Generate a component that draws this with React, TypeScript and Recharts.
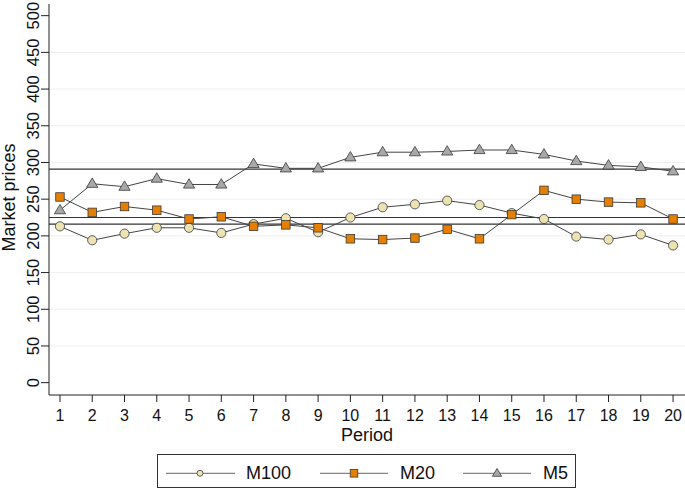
import React from 'react';
import { LineChart, Line, XAxis, YAxis, CartesianGrid, ReferenceLine, Legend } from 'recharts';

const periods = [1, 2, 3, 4, 5, 6, 7, 8, 9, 10, 11, 12, 13, 14, 15, 16, 17, 18, 19, 20];
const m100 = [213, 194, 203, 211, 211, 204, 216, 224, 205, 225, 239, 243, 248, 242, 231, 223, 199, 195, 202, 187];
const m20 = [253, 232, 240, 235, 223, 226, 213, 215, 211, 196, 195, 197, 209, 196, 229, 262, 250, 246, 245, 223];
const m5 = [235, 271, 267, 278, 270, 270, 298, 292, 292, 307, 314, 314, 315, 317, 317, 311, 302, 296, 294, 288];
const meanLines = [291, 225, 216];
const yTicks = [0, 50, 100, 150, 200, 250, 300, 350, 400, 450, 500];
const gridValues = [50, 100, 150, 200, 250, 300, 350, 400, 450];
const seriesNames = ['M100', 'M20', 'M5'];

const data = periods.map((p, i) => ({ period: p, M100: m100[i], M20: m20[i], M5: m5[i] }));

const FONT = '"Liberation Sans", Arial, Helvetica, sans-serif';
const LINE_COLOR = '#444';
const MARKER_STROKE = '#3a3a3a';
const C100 = '#EDE3B2';
const C20 = '#E67E00';
const C5 = '#A8A8A8';

const CircleDot = (props: any) => {
  const { cx, cy, index } = props;
  if (cx == null || cy == null) return null;
  return <circle key={`c-${index}`} cx={cx} cy={cy} r={4.6} fill={C100} stroke={MARKER_STROKE} strokeWidth={0.8} />;
};
const SquareDot = (props: any) => {
  const { cx, cy, index } = props;
  if (cx == null || cy == null) return null;
  const s = 8.5;
  return <rect key={`s-${index}`} x={cx - s / 2} y={cy - s / 2} width={s} height={s} fill={C20} stroke={MARKER_STROKE} strokeWidth={0.8} />;
};
const TriDot = (props: any) => {
  const { cx, cy, index } = props;
  if (cx == null || cy == null) return null;
  const pts = `${cx},${cy - 5.8} ${cx - 5.6},${cy + 3.6} ${cx + 5.6},${cy + 3.6}`;
  return <polygon key={`t-${index}`} points={pts} fill={C5} stroke={MARKER_STROKE} strokeWidth={0.8} />;
};

const YTick = (props: any) => {
  const { x, y, payload } = props;
  return (
    <text x={x} y={y} transform={`rotate(-90, ${x}, ${y})`} textAnchor="middle" fontSize={16.5} fontFamily={FONT} fill="#111">
      {payload.value}
    </text>
  );
};

const YLabel = (props: any) => {
  const vb = props.viewBox || { x: 0, y: 4, width: 49, height: 391 };
  const cx = 15;
  const cy = vb.y + vb.height / 2 - 2;
  return (
    <text x={cx} y={cy} transform={`rotate(-90, ${cx}, ${cy})`} textAnchor="middle" fontSize={18} fontFamily={FONT} fill="#111">
      Market prices
    </text>
  );
};

const XLabel = (props: any) => {
  const vb = props.viewBox || { x: 49, y: 395, width: 636, height: 50 };
  return (
    <text x={vb.x + vb.width / 2} y={441} textAnchor="middle" fontSize={18} fontFamily={FONT} fill="#111">
      Period
    </text>
  );
};

const LegendContent = () => {
  const items = [
    { name: seriesNames[0], x0: 8, x1: 77, mx: 42, tx: 88, kind: 'c' },
    { name: seriesNames[1], x0: 162, x1: 230, mx: 196, tx: 242, kind: 's' },
    { name: seriesNames[2], x0: 305, x1: 373, mx: 339, tx: 385, kind: 't' },
  ];
  const cy = 18.3;
  return (
    <svg width={417} height={32} style={{ display: 'block' }}>
      {items.map((it) => (
        <g key={it.name}>
          <line x1={it.x0} x2={it.x1} y1={cy} y2={cy} stroke="#666" strokeWidth={1} />
          {it.kind === 'c' && <circle cx={it.mx} cy={cy} r={3} fill={C100} stroke={MARKER_STROKE} strokeWidth={0.8} />}
          {it.kind === 's' && <rect x={it.mx - 3.8} y={cy - 3.8} width={7.6} height={7.6} fill={C20} stroke={MARKER_STROKE} strokeWidth={0.8} />}
          {it.kind === 't' && (
            <polygon points={`${it.mx},${cy - 4.8} ${it.mx - 4.6},${cy + 3} ${it.mx + 4.6},${cy + 3}`} fill={C5} stroke={MARKER_STROKE} strokeWidth={0.8} />
          )}
          <text x={it.tx} y={24.3} fontSize={18} fontFamily={FONT} fill="#111">{it.name}</text>
        </g>
      ))}
    </svg>
  );
};

export default function App() {
  return (
    <div style={{ position: 'absolute', left: 0, top: 0, width: 685, height: 489, background: '#fff' }}>
      <LineChart width={685} height={489} data={data} margin={{ top: 4, right: 0, bottom: 44, left: 0 }}>
        <CartesianGrid vertical={false} horizontalValues={gridValues} stroke="#efefef" strokeWidth={1} />
        <XAxis
          dataKey="period"
          type="number"
          domain={[0.66, 20.37]}
          allowDataOverflow
          ticks={periods}
          interval={0}
          height={50}
          tickSize={7}
          tickMargin={8}
          stroke="#222"
          tick={{ fontSize: 16, fontFamily: FONT, fill: '#111' }}
          label={<XLabel />}
        />
        <YAxis
          type="number"
          domain={[-16.8, 515.9]}
          allowDataOverflow
          ticks={yTicks}
          interval={0}
          width={49}
          tickSize={8}
          tickMargin={2}
          stroke="#222"
          tick={<YTick />}
          label={<YLabel />}
        />
        {meanLines.map((v) => (
          <ReferenceLine key={v} y={v} stroke="#333" strokeWidth={1.2} ifOverflow="extendDomain" />
        ))}
        <Legend
          layout="horizontal"
          verticalAlign="middle"
          align="center"
          content={<LegendContent />}
          wrapperStyle={{ position: 'absolute', left: 157, top: 454, width: 419, height: 34, border: '1px solid #333', background: '#fff', boxSizing: 'border-box' }}
        />
        <Line type="linear" dataKey="M100" name="M100" stroke={LINE_COLOR} strokeWidth={1} dot={CircleDot} activeDot={false} isAnimationActive={false} />
        <Line type="linear" dataKey="M20" name="M20" stroke={LINE_COLOR} strokeWidth={1} dot={SquareDot} activeDot={false} isAnimationActive={false} />
        <Line type="linear" dataKey="M5" name="M5" stroke={LINE_COLOR} strokeWidth={1} dot={TriDot} activeDot={false} isAnimationActive={false} />
      </LineChart>
    </div>
  );
}
